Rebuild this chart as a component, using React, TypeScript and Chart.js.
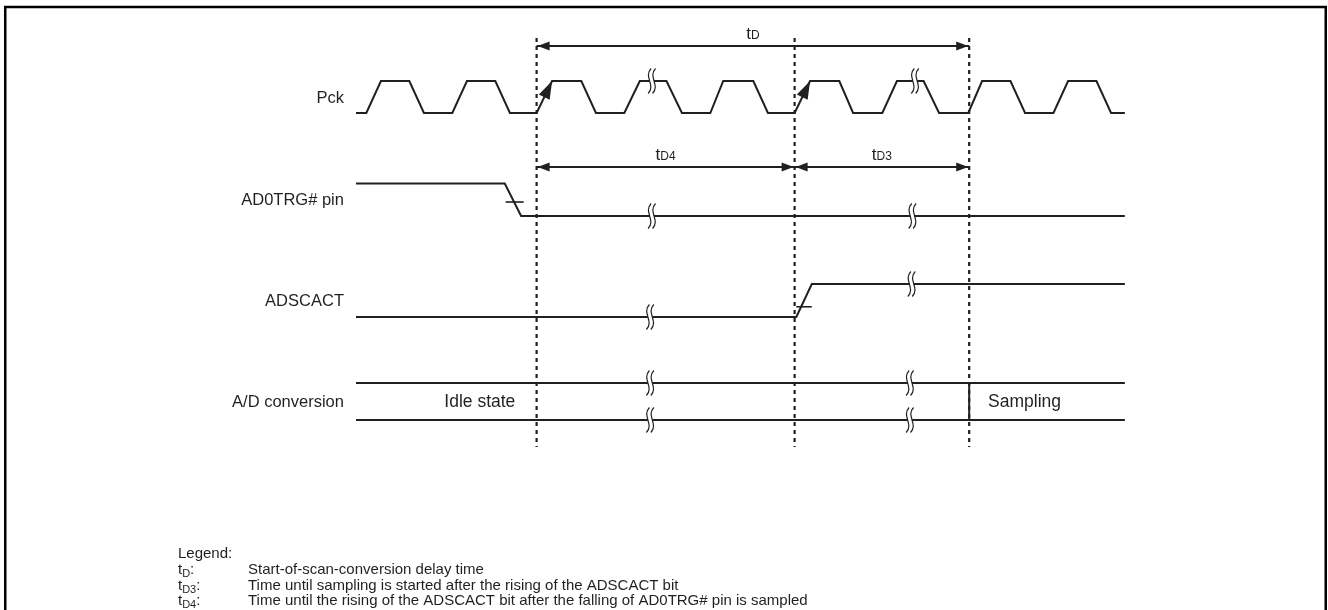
import React, { useEffect, useRef } from "react";
import { Chart, registerables } from "chart.js";

Chart.register(...registerables);

const W = 1328;
const H = 610;
const FONT = "'Liberation Sans', Arial, Helvetica, sans-serif";
const INK = "#231f20";

// ---- data (time axis: one Pck period = 10 units; levels 0 = low, 1 = high) ----
const signalNames = ["Pck", "AD0TRG# pin", "ADSCACT", "A/D conversion"];

const pckTimes = [
  0, 1.2, 2.9, 6.2, 7.9, 11.2, 12.9, 16.2, 17.9, 21.0, 22.8, 26.2, 27.9, 31.2,
  33.0, 36.1, 37.9, 41.2, 42.7, 46.2, 47.9, 51.0, 52.8, 56.2, 57.8, 61.2, 62.9,
  66.0, 67.8, 71.2, 72.8, 76.1, 77.8, 81.1, 82.8, 86.1, 87.8, 89.4,
];
const pckLevels = [
  0, 0, 1, 1, 0, 0, 1, 1, 0, 0, 1, 1, 0, 0, 1, 1, 0, 0, 1, 1, 0, 0, 1, 1, 0, 0,
  1, 1, 0, 0, 1, 1, 0, 0, 1, 1, 0, 0,
];
const trgTimes = [0, 17.3, 19.2, 89.4];
const trgLevels = [1, 1, 0, 0];
const actTimes = [0, 51.2, 53.0, 89.4];
const actLevels = [0, 0, 1, 1];
const convTimes = [0, 89.4];
const convChangeTime = 71.3;
const convStates = ["Idle state", "Sampling"];
const convStateTimes = [14.4, 73.5];

const pckBreaks = [34.4, 65.0];
const trgBreaks = [34.4, 64.7];
const actBreaks = [34.2, 64.6];
const convBreaks = [34.2, 64.4];

const markerTimes = [21.0, 51.0, 71.3];
const intervalNames = ["D", "D4", "D3"];
const intervalFrom = [0, 0, 1];
const intervalTo = [2, 1, 2];
const intervalRow = [0, 1, 1];

const legendSubs = ["D", "D3", "D4"];
const legendTexts = [
  "Start-of-scan-conversion delay time",
  "Time until sampling is started after the rising of the ADSCACT bit",
  "Time until the rising of the ADSCACT bit after the falling of AD0TRG# pin is sampled",
];

// ---- layout ----
const X_MIN = -356 / 8.6;
const X_MAX = X_MIN + W / 8.6;
const lanes = [
  { hi: 8.1, lo: 11.3 },
  { hi: 18.35, lo: 21.6 },
  { hi: 28.4, lo: 31.7 },
  { hi: 38.3, lo: 42.0 },
];
const arrowRowY = [4.6, 16.7];
const markerTop = 3.8;
const markerBottom = 44.7;
const labelT = -1.4;

const ly = (lane: number, level: number) =>
  lanes[lane].lo + (lanes[lane].hi - lanes[lane].lo) * level;

const wave = (lane: number, ts: number[], ls: number[]) =>
  ts.map((t, i) => ({ x: t, y: ly(lane, ls[i]) }));

const levelAt = (ts: number[], ls: number[], t: number) => {
  for (let i = 0; i < ts.length - 1; i++) {
    if (t >= ts[i] && t <= ts[i + 1]) {
      const f = (t - ts[i]) / (ts[i + 1] - ts[i] || 1);
      return ls[i] + (ls[i + 1] - ls[i]) * f;
    }
  }
  return ls[ls.length - 1];
};

const lineDs = (data: any[], extra: any = {}) => ({
  data,
  showLine: true,
  borderColor: INK,
  borderWidth: 2,
  pointRadius: 0,
  fill: false,
  tension: 0,
  ...extra,
});

function arrowHead(ctx: CanvasRenderingContext2D, tx: number, ty: number, dx: number, dy: number, len: number, hw: number) {
  const m = Math.hypot(dx, dy) || 1;
  const ux = dx / m, uy = dy / m;
  const bx = tx - ux * len, by = ty - uy * len;
  ctx.beginPath();
  ctx.moveTo(tx, ty);
  ctx.lineTo(bx - uy * hw, by + ux * hw);
  ctx.lineTo(bx + uy * hw, by - ux * hw);
  ctx.closePath();
  ctx.fill();
}

function breakMark(ctx: CanvasRenderingContext2D, cx: number, cy: number) {
  const h = 12.5, g = 2.2;
  const pts = (x: number) => [x + 1.5, cy - h, x - 6.5, cy - 4, x + 6.5, cy + 4, x - 1.5, cy + h];
  const a = pts(cx - g), b = pts(cx + g);
  ctx.save();
  ctx.fillStyle = "#fff";
  ctx.beginPath();
  ctx.moveTo(a[0], a[1]);
  ctx.bezierCurveTo(a[2], a[3], a[4], a[5], a[6], a[7]);
  ctx.lineTo(b[6], b[7]);
  ctx.bezierCurveTo(b[4], b[5], b[2], b[3], b[0], b[1]);
  ctx.closePath();
  ctx.fill();
  ctx.strokeStyle = INK;
  ctx.lineWidth = 1.2;
  for (const p of [a, b]) {
    ctx.beginPath();
    ctx.moveTo(p[0], p[1]);
    ctx.bezierCurveTo(p[2], p[3], p[4], p[5], p[6], p[7]);
    ctx.stroke();
  }
  ctx.restore();
}

function subText(ctx: CanvasRenderingContext2D, x: number, y: number, main: string, sub: string, mainSize: number, subSize: number, subDrop: number, after = "") {
  ctx.font = `${mainSize}px ${FONT}`;
  ctx.fillText(main, x, y);
  let w = ctx.measureText(main).width;
  ctx.font = `${subSize}px ${FONT}`;
  ctx.fillText(sub, x + w, y + subDrop);
  w += ctx.measureText(sub).width;
  if (after) {
    ctx.font = `${mainSize}px ${FONT}`;
    ctx.fillText(after, x + w, y);
  }
}

const decor = {
  id: "timingDecor",
  afterDatasetsDraw(chart: any) {
    const ctx: CanvasRenderingContext2D = chart.ctx;
    const X = (t: number) => chart.scales.x.getPixelForValue(t);
    const Y = (v: number) => chart.scales.y.getPixelForValue(v);
    ctx.save();

    // break marks
    const sigs = [
      { lane: 0, ts: pckTimes, ls: pckLevels, br: pckBreaks },
      { lane: 1, ts: trgTimes, ls: trgLevels, br: trgBreaks },
      { lane: 2, ts: actTimes, ls: actLevels, br: actBreaks },
    ];
    for (const s of sigs) {
      for (const b of s.br) breakMark(ctx, X(b), Y(ly(s.lane, levelAt(s.ts, s.ls, b))));
    }
    for (const b of convBreaks) {
      breakMark(ctx, X(b), Y(lanes[3].hi));
      breakMark(ctx, X(b), Y(lanes[3].lo));
    }

    // edge crossing ticks
    ctx.strokeStyle = INK;
    ctx.lineWidth = 1.6;
    const ticks = [
      { lane: 1, t0: 17.4, t1: 19.5, lv: 0.43 },
      { lane: 2, t0: 51.2, t1: 53.0, lv: 0.31 },
    ];
    for (const k of ticks) {
      ctx.beginPath();
      ctx.moveTo(X(k.t0), Y(ly(k.lane, k.lv)));
      ctx.lineTo(X(k.t1), Y(ly(k.lane, k.lv)));
      ctx.stroke();
    }

    // arrowheads on interval arrows
    ctx.fillStyle = INK;
    intervalNames.forEach((_, i) => {
      const y = Y(arrowRowY[intervalRow[i]]);
      const x0 = X(markerTimes[intervalFrom[i]]);
      const x1 = X(markerTimes[intervalTo[i]]);
      arrowHead(ctx, x0 + 1, y, -1, 0, 12, 4.5);
      arrowHead(ctx, x1 - 1, y, 1, 0, 12, 4.5);
    });

    // Pck edge arrows at the first two markers
    for (const m of [0, 1]) {
      const t0 = markerTimes[m];
      const idx = pckTimes.findIndex((t) => Math.abs(t - t0) < 0.25);
      const xa = X(pckTimes[idx]), ya = Y(ly(0, 0));
      const xb = X(pckTimes[idx + 1]), yb = Y(ly(0, 1));
      arrowHead(ctx, xb, yb, xb - xa, yb - ya, 18, 6);
    }

    // texts
    ctx.fillStyle = INK;
    ctx.textBaseline = "middle";
    ctx.textAlign = "right";
    ctx.font = `16.5px ${FONT}`;
    signalNames.forEach((n, i) => {
      ctx.fillText(n, X(labelT), Y((lanes[i].hi + lanes[i].lo) / 2) + 1);
    });
    ctx.font = `17.5px ${FONT}`;
    const convMid = Y((lanes[3].hi + lanes[3].lo) / 2) + 1;
    ctx.textAlign = "center";
    ctx.fillText(convStates[0], X(convStateTimes[0]), convMid);
    ctx.textAlign = "left";
    ctx.fillText(convStates[1], X(convStateTimes[1]), convMid);

    // interval labels
    ctx.textBaseline = "alphabetic";
    intervalNames.forEach((n, i) => {
      const y = Y(arrowRowY[intervalRow[i]]) - 7;
      const cx = (X(markerTimes[intervalFrom[i]]) + X(markerTimes[intervalTo[i]])) / 2;
      ctx.font = `17px ${FONT}`;
      const w1 = ctx.measureText("t").width;
      ctx.font = `12px ${FONT}`;
      const w2 = ctx.measureText(n).width;
      subText(ctx, cx - (w1 + w2) / 2, y, "t", n, 17, 12, 0);
    });

    // legend
    ctx.font = `15px ${FONT}`;
    ctx.fillText("Legend:", 178, 558);
    legendSubs.forEach((s, i) => {
      const y = 574 + i * 15.5;
      subText(ctx, 178, y, "t", s, 15, 11, 3, ":");
      ctx.font = `15px ${FONT}`;
      ctx.fillText(legendTexts[i], 248, y);
    });

    ctx.restore();
  },
  afterDraw(chart: any) {
    const ctx: CanvasRenderingContext2D = chart.ctx;
    ctx.save();
    ctx.strokeStyle = "#000";
    ctx.lineWidth = 2.5;
    ctx.strokeRect(5.25, 7, W - 7.5, H + 10);
    ctx.restore();
  },
};

export default function App() {
  const ref = useRef<HTMLCanvasElement>(null);
  useEffect(() => {
    const canvas = ref.current!;
    const datasets: any[] = [
      lineDs(wave(0, pckTimes, pckLevels)),
      lineDs(wave(1, trgTimes, trgLevels)),
      lineDs(wave(2, actTimes, actLevels)),
      lineDs(convTimes.map((t) => ({ x: t, y: lanes[3].hi }))),
      lineDs(convTimes.map((t) => ({ x: t, y: lanes[3].lo }))),
      lineDs([
        { x: convChangeTime, y: lanes[3].hi },
        { x: convChangeTime, y: lanes[3].lo },
      ]),
      ...markerTimes.map((m) =>
        lineDs(
          [
            { x: m, y: markerTop },
            { x: m, y: markerBottom },
          ],
          { borderDash: [4, 4], borderWidth: 2.2 }
        )
      ),
      ...intervalNames.map((_, i) =>
        lineDs(
          [
            { x: markerTimes[intervalFrom[i]], y: arrowRowY[intervalRow[i]] },
            { x: markerTimes[intervalTo[i]], y: arrowRowY[intervalRow[i]] },
          ],
          { borderWidth: 1.8 }
        )
      ),
    ];
    const chart = new Chart(canvas, {
      type: "scatter",
      data: { datasets },
      options: {
        animation: false,
        responsive: false,
        layout: { padding: 0 },
        plugins: { legend: { display: false }, tooltip: { enabled: false } },
        scales: {
          x: { type: "linear", min: X_MIN, max: X_MAX, display: false },
          y: { type: "linear", min: 0, max: H / 10, reverse: true, display: false },
        },
      },
      plugins: [decor],
    } as any);
    return () => chart.destroy();
  }, []);
  return (
    <div style={{ position: "fixed", left: 0, top: 0, width: W, height: H, background: "#fff" }}>
      <canvas ref={ref} width={W} height={H} style={{ width: W, height: H, display: "block" }} />
    </div>
  );
}
